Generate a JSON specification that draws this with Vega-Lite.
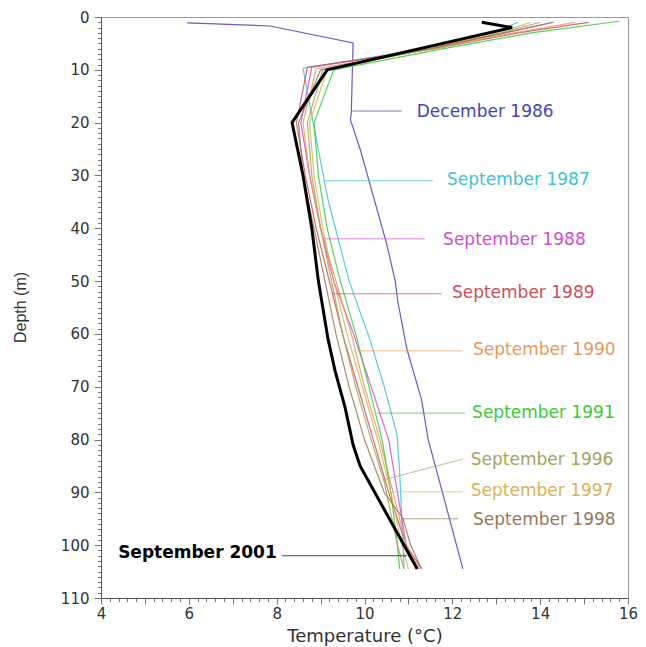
{
  "$schema": "https://vega.github.io/schema/vega-lite/v6.json",
  "width": 527,
  "height": 581,
  "autosize": {"type": "none"},
  "padding": {"left": 101, "top": 17, "right": 18, "bottom": 49},
  "background": "white",
  "config": {
    "view": {"stroke": "#9a9a9a", "strokeWidth": 1},
    "font": "DejaVu Sans"
  },
  "datasets": {
    "profiles": [
      {"series": "December 1986", "depth": 1.1, "temp": 5.96},
      {"series": "December 1986", "depth": 1.7, "temp": 7.85},
      {"series": "December 1986", "depth": 4.9, "temp": 9.74},
      {"series": "December 1986", "depth": 18, "temp": 9.7},
      {"series": "December 1986", "depth": 19.5, "temp": 9.68},
      {"series": "December 1986", "depth": 25, "temp": 9.9},
      {"series": "December 1986", "depth": 42.8, "temp": 10.5},
      {"series": "December 1986", "depth": 50, "temp": 10.7},
      {"series": "December 1986", "depth": 54, "temp": 10.76},
      {"series": "December 1986", "depth": 63, "temp": 10.97},
      {"series": "December 1986", "depth": 72.5, "temp": 11.3},
      {"series": "December 1986", "depth": 80, "temp": 11.45},
      {"series": "December 1986", "depth": 87.7, "temp": 11.7},
      {"series": "December 1986", "depth": 104.5, "temp": 12.24},

      {"series": "September 1987", "depth": 1, "temp": 13.5},
      {"series": "September 1987", "depth": 3, "temp": 12.9},
      {"series": "September 1987", "depth": 6, "temp": 11.4},
      {"series": "September 1987", "depth": 9.7, "temp": 8.6},
      {"series": "September 1987", "depth": 20, "temp": 8.83},
      {"series": "September 1987", "depth": 34.6, "temp": 9.17},
      {"series": "September 1987", "depth": 50, "temp": 9.65},
      {"series": "September 1987", "depth": 61, "temp": 10.12},
      {"series": "September 1987", "depth": 70, "temp": 10.45},
      {"series": "September 1987", "depth": 79, "temp": 10.74},
      {"series": "September 1987", "depth": 86, "temp": 10.8},
      {"series": "September 1987", "depth": 95, "temp": 10.85},
      {"series": "September 1987", "depth": 104.5, "temp": 10.9},

      {"series": "September 1988", "depth": 1, "temp": 14.3},
      {"series": "September 1988", "depth": 3, "temp": 13.2},
      {"series": "September 1988", "depth": 6, "temp": 11.5},
      {"series": "September 1988", "depth": 9.5, "temp": 8.8},
      {"series": "September 1988", "depth": 20, "temp": 8.55},
      {"series": "September 1988", "depth": 30, "temp": 8.75},
      {"series": "September 1988", "depth": 40, "temp": 9.0},
      {"series": "September 1988", "depth": 50, "temp": 9.3},
      {"series": "September 1988", "depth": 60, "temp": 9.75},
      {"series": "September 1988", "depth": 70, "temp": 10.15},
      {"series": "September 1988", "depth": 80, "temp": 10.55},
      {"series": "September 1988", "depth": 90, "temp": 10.75},
      {"series": "September 1988", "depth": 100, "temp": 10.95},
      {"series": "September 1988", "depth": 104.5, "temp": 11.2},

      {"series": "September 1989", "depth": 1, "temp": 15.1},
      {"series": "September 1989", "depth": 3, "temp": 13.5},
      {"series": "September 1989", "depth": 6, "temp": 11.6},
      {"series": "September 1989", "depth": 9.5, "temp": 8.7},
      {"series": "September 1989", "depth": 20, "temp": 8.45},
      {"series": "September 1989", "depth": 30, "temp": 8.65},
      {"series": "September 1989", "depth": 40, "temp": 8.9},
      {"series": "September 1989", "depth": 50, "temp": 9.2},
      {"series": "September 1989", "depth": 60, "temp": 9.5},
      {"series": "September 1989", "depth": 70, "temp": 9.85},
      {"series": "September 1989", "depth": 80, "temp": 10.2},
      {"series": "September 1989", "depth": 90, "temp": 10.55},
      {"series": "September 1989", "depth": 100, "temp": 10.95},
      {"series": "September 1989", "depth": 104.5, "temp": 11.3},

      {"series": "September 1990", "depth": 1, "temp": 14.8},
      {"series": "September 1990", "depth": 3, "temp": 13.4},
      {"series": "September 1990", "depth": 6, "temp": 11.6},
      {"series": "September 1990", "depth": 9.8, "temp": 8.9},
      {"series": "September 1990", "depth": 20, "temp": 8.6},
      {"series": "September 1990", "depth": 30, "temp": 8.75},
      {"series": "September 1990", "depth": 40, "temp": 9.0},
      {"series": "September 1990", "depth": 50, "temp": 9.35},
      {"series": "September 1990", "depth": 60, "temp": 9.7},
      {"series": "September 1990", "depth": 70, "temp": 10.0},
      {"series": "September 1990", "depth": 80, "temp": 10.35},
      {"series": "September 1990", "depth": 90, "temp": 10.65},
      {"series": "September 1990", "depth": 100, "temp": 10.95},
      {"series": "September 1990", "depth": 104.5, "temp": 11.25},

      {"series": "September 1991", "depth": 0.8, "temp": 15.8},
      {"series": "September 1991", "depth": 3, "temp": 13.8},
      {"series": "September 1991", "depth": 6, "temp": 11.8},
      {"series": "September 1991", "depth": 10, "temp": 9.3},
      {"series": "September 1991", "depth": 20, "temp": 8.85},
      {"series": "September 1991", "depth": 30, "temp": 8.95},
      {"series": "September 1991", "depth": 40, "temp": 9.15},
      {"series": "September 1991", "depth": 50, "temp": 9.45},
      {"series": "September 1991", "depth": 60, "temp": 9.8},
      {"series": "September 1991", "depth": 70, "temp": 10.1},
      {"series": "September 1991", "depth": 80, "temp": 10.4},
      {"series": "September 1991", "depth": 90, "temp": 10.6},
      {"series": "September 1991", "depth": 100, "temp": 10.75},
      {"series": "September 1991", "depth": 104.5, "temp": 10.8},

      {"series": "September 1996", "depth": 1, "temp": 14.0},
      {"series": "September 1996", "depth": 3, "temp": 13.1},
      {"series": "September 1996", "depth": 6, "temp": 11.5},
      {"series": "September 1996", "depth": 10, "temp": 9.05},
      {"series": "September 1996", "depth": 20, "temp": 8.7},
      {"series": "September 1996", "depth": 30, "temp": 8.8},
      {"series": "September 1996", "depth": 40, "temp": 9.0},
      {"series": "September 1996", "depth": 50, "temp": 9.25},
      {"series": "September 1996", "depth": 60, "temp": 9.5},
      {"series": "September 1996", "depth": 70, "temp": 9.8},
      {"series": "September 1996", "depth": 80, "temp": 10.15},
      {"series": "September 1996", "depth": 88, "temp": 10.45},
      {"series": "September 1996", "depth": 100, "temp": 10.75},
      {"series": "September 1996", "depth": 104.5, "temp": 10.9},

      {"series": "September 1997", "depth": 1, "temp": 13.8},
      {"series": "September 1997", "depth": 3, "temp": 13.0},
      {"series": "September 1997", "depth": 6, "temp": 11.45},
      {"series": "September 1997", "depth": 10, "temp": 9.15},
      {"series": "September 1997", "depth": 20, "temp": 8.75},
      {"series": "September 1997", "depth": 30, "temp": 8.85},
      {"series": "September 1997", "depth": 40, "temp": 9.05},
      {"series": "September 1997", "depth": 50, "temp": 9.3},
      {"series": "September 1997", "depth": 60, "temp": 9.6},
      {"series": "September 1997", "depth": 70, "temp": 9.95},
      {"series": "September 1997", "depth": 80, "temp": 10.3},
      {"series": "September 1997", "depth": 90, "temp": 10.6},
      {"series": "September 1997", "depth": 100, "temp": 10.85},
      {"series": "September 1997", "depth": 104.5, "temp": 11.0},

      {"series": "September 1998", "depth": 1, "temp": 14.3},
      {"series": "September 1998", "depth": 3, "temp": 13.2},
      {"series": "September 1998", "depth": 6, "temp": 11.5},
      {"series": "September 1998", "depth": 10, "temp": 9.0},
      {"series": "September 1998", "depth": 20, "temp": 8.5},
      {"series": "September 1998", "depth": 30, "temp": 8.6},
      {"series": "September 1998", "depth": 40, "temp": 8.85},
      {"series": "September 1998", "depth": 50, "temp": 9.1},
      {"series": "September 1998", "depth": 60, "temp": 9.35},
      {"series": "September 1998", "depth": 70, "temp": 9.65},
      {"series": "September 1998", "depth": 80, "temp": 10.0},
      {"series": "September 1998", "depth": 90, "temp": 10.45},
      {"series": "September 1998", "depth": 95, "temp": 10.88},
      {"series": "September 1998", "depth": 100, "temp": 11.05},
      {"series": "September 1998", "depth": 104.5, "temp": 11.3},

      {"series": "September 2001", "depth": 1, "temp": 12.67},
      {"series": "September 2001", "depth": 2, "temp": 13.36},
      {"series": "September 2001", "depth": 10, "temp": 9.15},
      {"series": "September 2001", "depth": 20, "temp": 8.35},
      {"series": "September 2001", "depth": 30, "temp": 8.6},
      {"series": "September 2001", "depth": 40, "temp": 8.8},
      {"series": "September 2001", "depth": 50, "temp": 8.95},
      {"series": "September 2001", "depth": 61, "temp": 9.17},
      {"series": "September 2001", "depth": 67, "temp": 9.33},
      {"series": "September 2001", "depth": 74, "temp": 9.56},
      {"series": "September 2001", "depth": 81, "temp": 9.74},
      {"series": "September 2001", "depth": 85, "temp": 9.9},
      {"series": "September 2001", "depth": 104.5, "temp": 11.2}
    ],
    "leaders": [
      {"series": "December 1986", "temp": 9.72, "depth": 17.8, "temp2": 10.85, "depth2": 17.8},
      {"series": "September 1987", "temp": 9.1, "depth": 31.0, "temp2": 11.56, "depth2": 31.0},
      {"series": "September 1988", "temp": 9.1, "depth": 42.0, "temp2": 11.38, "depth2": 42.0},
      {"series": "September 1989", "temp": 9.28, "depth": 52.4, "temp2": 11.76, "depth2": 52.4},
      {"series": "September 1990", "temp": 9.83, "depth": 63.2, "temp2": 12.22, "depth2": 63.2},
      {"series": "September 1991", "temp": 10.28, "depth": 75.0, "temp2": 12.29, "depth2": 75.0},
      {"series": "September 1996", "temp": 10.4, "depth": 87.7, "temp2": 12.24, "depth2": 83.7},
      {"series": "September 1997", "temp": 10.58, "depth": 89.9, "temp2": 12.24, "depth2": 89.9},
      {"series": "September 1998", "temp": 10.88, "depth": 95.0, "temp2": 12.13, "depth2": 95.0},
      {"series": "September 2001", "temp": 8.12, "depth": 102.0, "temp2": 10.97, "depth2": 102.0}
    ],
    "labels": [
      {"series": "December 1986", "temp": 11.19, "depth": 17.9},
      {"series": "September 1987", "temp": 11.88, "depth": 30.9},
      {"series": "September 1988", "temp": 11.79, "depth": 42.2},
      {"series": "September 1989", "temp": 11.99, "depth": 52.3},
      {"series": "September 1990", "temp": 12.47, "depth": 63.0},
      {"series": "September 1991", "temp": 12.45, "depth": 75.0},
      {"series": "September 1996", "temp": 12.42, "depth": 83.9},
      {"series": "September 1997", "temp": 12.42, "depth": 89.7},
      {"series": "September 1998", "temp": 12.47, "depth": 95.2},
      {"series": "September 2001", "temp": 4.39, "depth": 101.5}
    ]
  },
  "encoding": {
    "x": {
      "field": "temp",
      "type": "quantitative",
      "title": "Temperature (°C)",
      "scale": {"domain": [4, 16], "nice": false, "zero": false},
      "axis": {
        "values": [4, 4.2, 4.4, 4.6, 4.8, 5, 5.2, 5.4, 5.6, 5.8, 6, 6.2, 6.4, 6.6, 6.8, 7, 7.2, 7.4, 7.6, 7.8, 8, 8.2, 8.4, 8.6, 8.8, 9, 9.2, 9.4, 9.6, 9.8, 10, 10.2, 10.4, 10.6, 10.8, 11, 11.2, 11.4, 11.6, 11.8, 12, 12.2, 12.4, 12.6, 12.8, 13, 13.2, 13.4, 13.6, 13.8, 14, 14.2, 14.4, 14.6, 14.8, 15, 15.2, 15.4, 15.6, 15.8, 16],
        "labelExpr": "abs(datum.value - 2*round(datum.value/2)) < 0.001 ? format(datum.value, 'd') : ''",
        "tickSize": {"condition": {"test": "abs(datum.value - round(datum.value)) < 0.001", "value": 6}, "value": 3.5},
        "labelOverlap": false,
        "labelFlush": false,
        "labelBound": false,
        "labelFont": "DejaVu Sans",
        "labelFontSize": 15,
        "labelColor": "#333333",
        "labelPadding": 2,
        "domainColor": "#555555",
        "tickColor": "#777777",
        "grid": false,
        "titleFont": "DejaVu Sans",
        "titleFontSize": 18,
        "titleFontWeight": "normal",
        "titleColor": "#333333",
        "titleBaseline": "middle",
        "titleY": 38
      }
    },
    "y": {
      "field": "depth",
      "type": "quantitative",
      "title": "Depth (m)",
      "scale": {"domain": [0, 110], "reverse": true, "nice": false, "zero": false},
      "axis": {
        "values": [0, 1, 2, 3, 4, 5, 6, 7, 8, 9, 10, 11, 12, 13, 14, 15, 16, 17, 18, 19, 20, 21, 22, 23, 24, 25, 26, 27, 28, 29, 30, 31, 32, 33, 34, 35, 36, 37, 38, 39, 40, 41, 42, 43, 44, 45, 46, 47, 48, 49, 50, 51, 52, 53, 54, 55, 56, 57, 58, 59, 60, 61, 62, 63, 64, 65, 66, 67, 68, 69, 70, 71, 72, 73, 74, 75, 76, 77, 78, 79, 80, 81, 82, 83, 84, 85, 86, 87, 88, 89, 90, 91, 92, 93, 94, 95, 96, 97, 98, 99, 100, 101, 102, 103, 104, 105, 106, 107, 108, 109, 110],
        "labelExpr": "datum.value % 10 === 0 ? format(datum.value, 'd') : ''",
        "tickSize": {"condition": {"test": "datum.value % 10 === 0", "value": 7}, "value": 3.5},
        "labelOverlap": false,
        "labelFlush": false,
        "labelBound": false,
        "labelFont": "DejaVu Sans",
        "labelFontSize": 15,
        "labelColor": "#333333",
        "labelPadding": 5,
        "domainColor": "#555555",
        "tickColor": "#777777",
        "grid": false,
        "titleFont": "Liberation Sans",
        "titleFontSize": 16,
        "titleFontWeight": "normal",
        "titleColor": "#333333",
        "titleAngle": 270,
        "titleAlign": "center",
        "titleBaseline": "middle",
        "titleX": -81,
        "titleY": 290
      }
    },
    "color": {
      "field": "series",
      "type": "nominal",
      "legend": null,
      "scale": {
        "domain": ["December 1986", "September 1987", "September 1988", "September 1989", "September 1990", "September 1991", "September 1996", "September 1997", "September 1998", "September 2001"],
        "range": ["#4545b0", "#3fc3d3", "#d04ed0", "#cf4d58", "#e89a5a", "#3cc83c", "#a4a45e", "#d8b35a", "#977858", "#000000"]
      }
    }
  },
  "layer": [
    {
      "data": {"name": "profiles"},
      "transform": [{"filter": "datum.series !== 'September 2001'"}],
      "mark": {"type": "line", "strokeWidth": 1.2, "opacity": 0.85},
      "encoding": {"order": {"field": "depth", "type": "quantitative"}}
    },
    {
      "data": {"name": "profiles"},
      "transform": [{"filter": "datum.series === 'September 2001'"}],
      "mark": {"type": "line", "strokeWidth": 3},
      "encoding": {"order": {"field": "depth", "type": "quantitative"}}
    },
    {
      "data": {"name": "leaders"},
      "mark": {"type": "rule", "strokeWidth": 1, "opacity": 0.7},
      "encoding": {
        "x2": {"field": "temp2"},
        "y2": {"field": "depth2"}
      }
    },
    {
      "data": {"name": "labels"},
      "transform": [{"filter": "datum.series !== 'September 2001'"}],
      "mark": {"type": "text", "align": "left", "baseline": "middle", "font": "DejaVu Sans", "fontSize": 17},
      "encoding": {
        "text": {"field": "series", "type": "nominal"}
      }
    },
    {
      "data": {"name": "labels"},
      "transform": [{"filter": "datum.series === 'September 2001'"}],
      "mark": {"type": "text", "align": "left", "baseline": "middle", "font": "DejaVu Sans", "fontSize": 17, "fontWeight": "bold"},
      "encoding": {
        "text": {"field": "series", "type": "nominal"}
      }
    }
  ]
}
